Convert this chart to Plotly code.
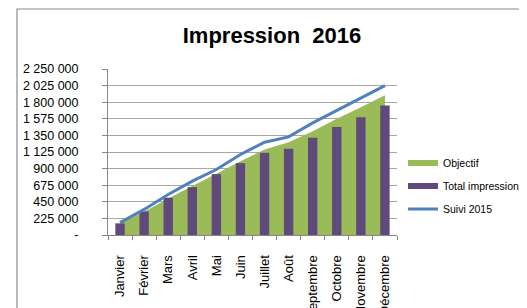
import plotly.graph_objects as go

months = ["Janvier", "Février", "Mars", "Avril", "Mai", "Juin", "Juillet",
          "Août", "Septembre", "Octobre", "Novembre", "Décembre"]
objectif = [160000, 315000, 495000, 663000, 830000, 1001000, 1159000,
            1258000, 1407000, 1574000, 1731000, 1894000]
total_impression = [158000, 320000, 505000, 649000, 825000, 974000, 1114000,
                    1168000, 1317000, 1465000, 1596000, 1755000]
suivi_2015 = [167000, 347000, 550000, 730000, 888000, 1091000, 1258000,
              1330000, 1520000, 1686000, 1849000, 2025000]
y_tickvals = [0, 225000, 450000, 675000, 900000, 1125000, 1350000,
              1575000, 1800000, 2025000, 2250000]
y_ticktext = ["-", "225 000", "450 000", "675 000", "900 000", "1 125 000",
              "1 350 000", "1 575 000", "1 800 000", "2 025 000", "2 250 000"]

FONT = "Liberation Sans"
W, H = 527, 308
OFF_X, OFF_Y = 0, 8  # observed page offset
pw, ph = 289, 166
L, T = 100 - OFF_X, 69 - OFF_Y
R, B = W - L - pw, H - T - ph
GREEN, PURPLE, BLUE = "#9BBB59", "#604A7B", "#4F81BD"

def px2x(px):
    return (px - OFF_X - L) / pw

def py2y(py):
    return (T + ph - (py - OFF_Y)) / ph

fig = go.Figure()
fig.add_trace(go.Scatter(
    x=months, y=objectif, name="Objectif", mode="none",
    fill="tozeroy", fillcolor=GREEN, legendgroup="a", legendrank=1))
fig.add_trace(go.Bar(
    x=months, y=total_impression, name="Total impression",
    marker=dict(color=PURPLE, line=dict(width=0)), showlegend=False,
    xaxis="x2", yaxis="y2"))
# legend-only swatch (wide bar symbol as in the original legend)
fig.add_trace(go.Scatter(
    x=[None], y=[None], name="Total impression", mode="lines",
    line=dict(color=PURPLE, width=6), legendgroup="b", legendrank=2,
    xaxis="x2", yaxis="y2"))
fig.add_trace(go.Scatter(
    x=months, y=suivi_2015, name="Suivi 2015", mode="lines",
    line=dict(color=BLUE, width=3), legendgroup="c", legendrank=3,
    xaxis="x2", yaxis="y2"))

fig.update_layout(
    width=W, height=H,
    margin=dict(l=L, r=R, t=T, b=B, autoexpand=False),
    paper_bgcolor="white", plot_bgcolor="white",
    font=dict(family=FONT, color="black"),
    bargap=0.61,
    showlegend=True,
    title=dict(text="<b>Impression  2016</b>", font=dict(family=FONT, size=22, color="black"),
               x=264 / W, xanchor="center", xref="container",
               y=1 - 27 / H, yanchor="middle", yref="container"),
    legend=dict(x=px2x(395), xanchor="left", y=py2y(186), yanchor="middle",
                font=dict(family=FONT, size=10.5), tracegroupgap=4,
                traceorder="grouped", bgcolor="rgba(0,0,0,0)"),
    xaxis=dict(type="category", showgrid=False, showline=True, linecolor="#868686",
               ticks="outside", ticklen=4, tickcolor="#868686", tickson="boundaries",
               tickangle=-90, tickfont=dict(family=FONT, size=13, color="black"),
               ticklabelstandoff=14, zeroline=False, automargin=False),
    yaxis=dict(range=[0, 2250000], tickvals=y_tickvals, ticktext=y_ticktext,
               showgrid=True, gridcolor="#A6A6A6", gridwidth=1,
               showline=True, linecolor="#868686", ticks="outside", ticklen=5,
               tickcolor="#868686", tickfont=dict(family=FONT, size=12.5, color="black"),
               ticklabelstandoff=21, zeroline=False, automargin=False),
    xaxis2=dict(type="category", overlaying="x", matches="x", visible=False,
                automargin=False),
    yaxis2=dict(overlaying="y", matches="y", range=[0, 2250000], visible=False,
                automargin=False),
    shapes=[dict(type="rect", xref="paper", yref="paper",
                 x0=px2x(9), x1=px2x(W + 20), y0=py2y(H + 20), y1=py2y(9),
                 line=dict(color="#8C8C8C", width=1.2), fillcolor="rgba(0,0,0,0)",
                 layer="below")],
)

fig.write_html("out.html")
